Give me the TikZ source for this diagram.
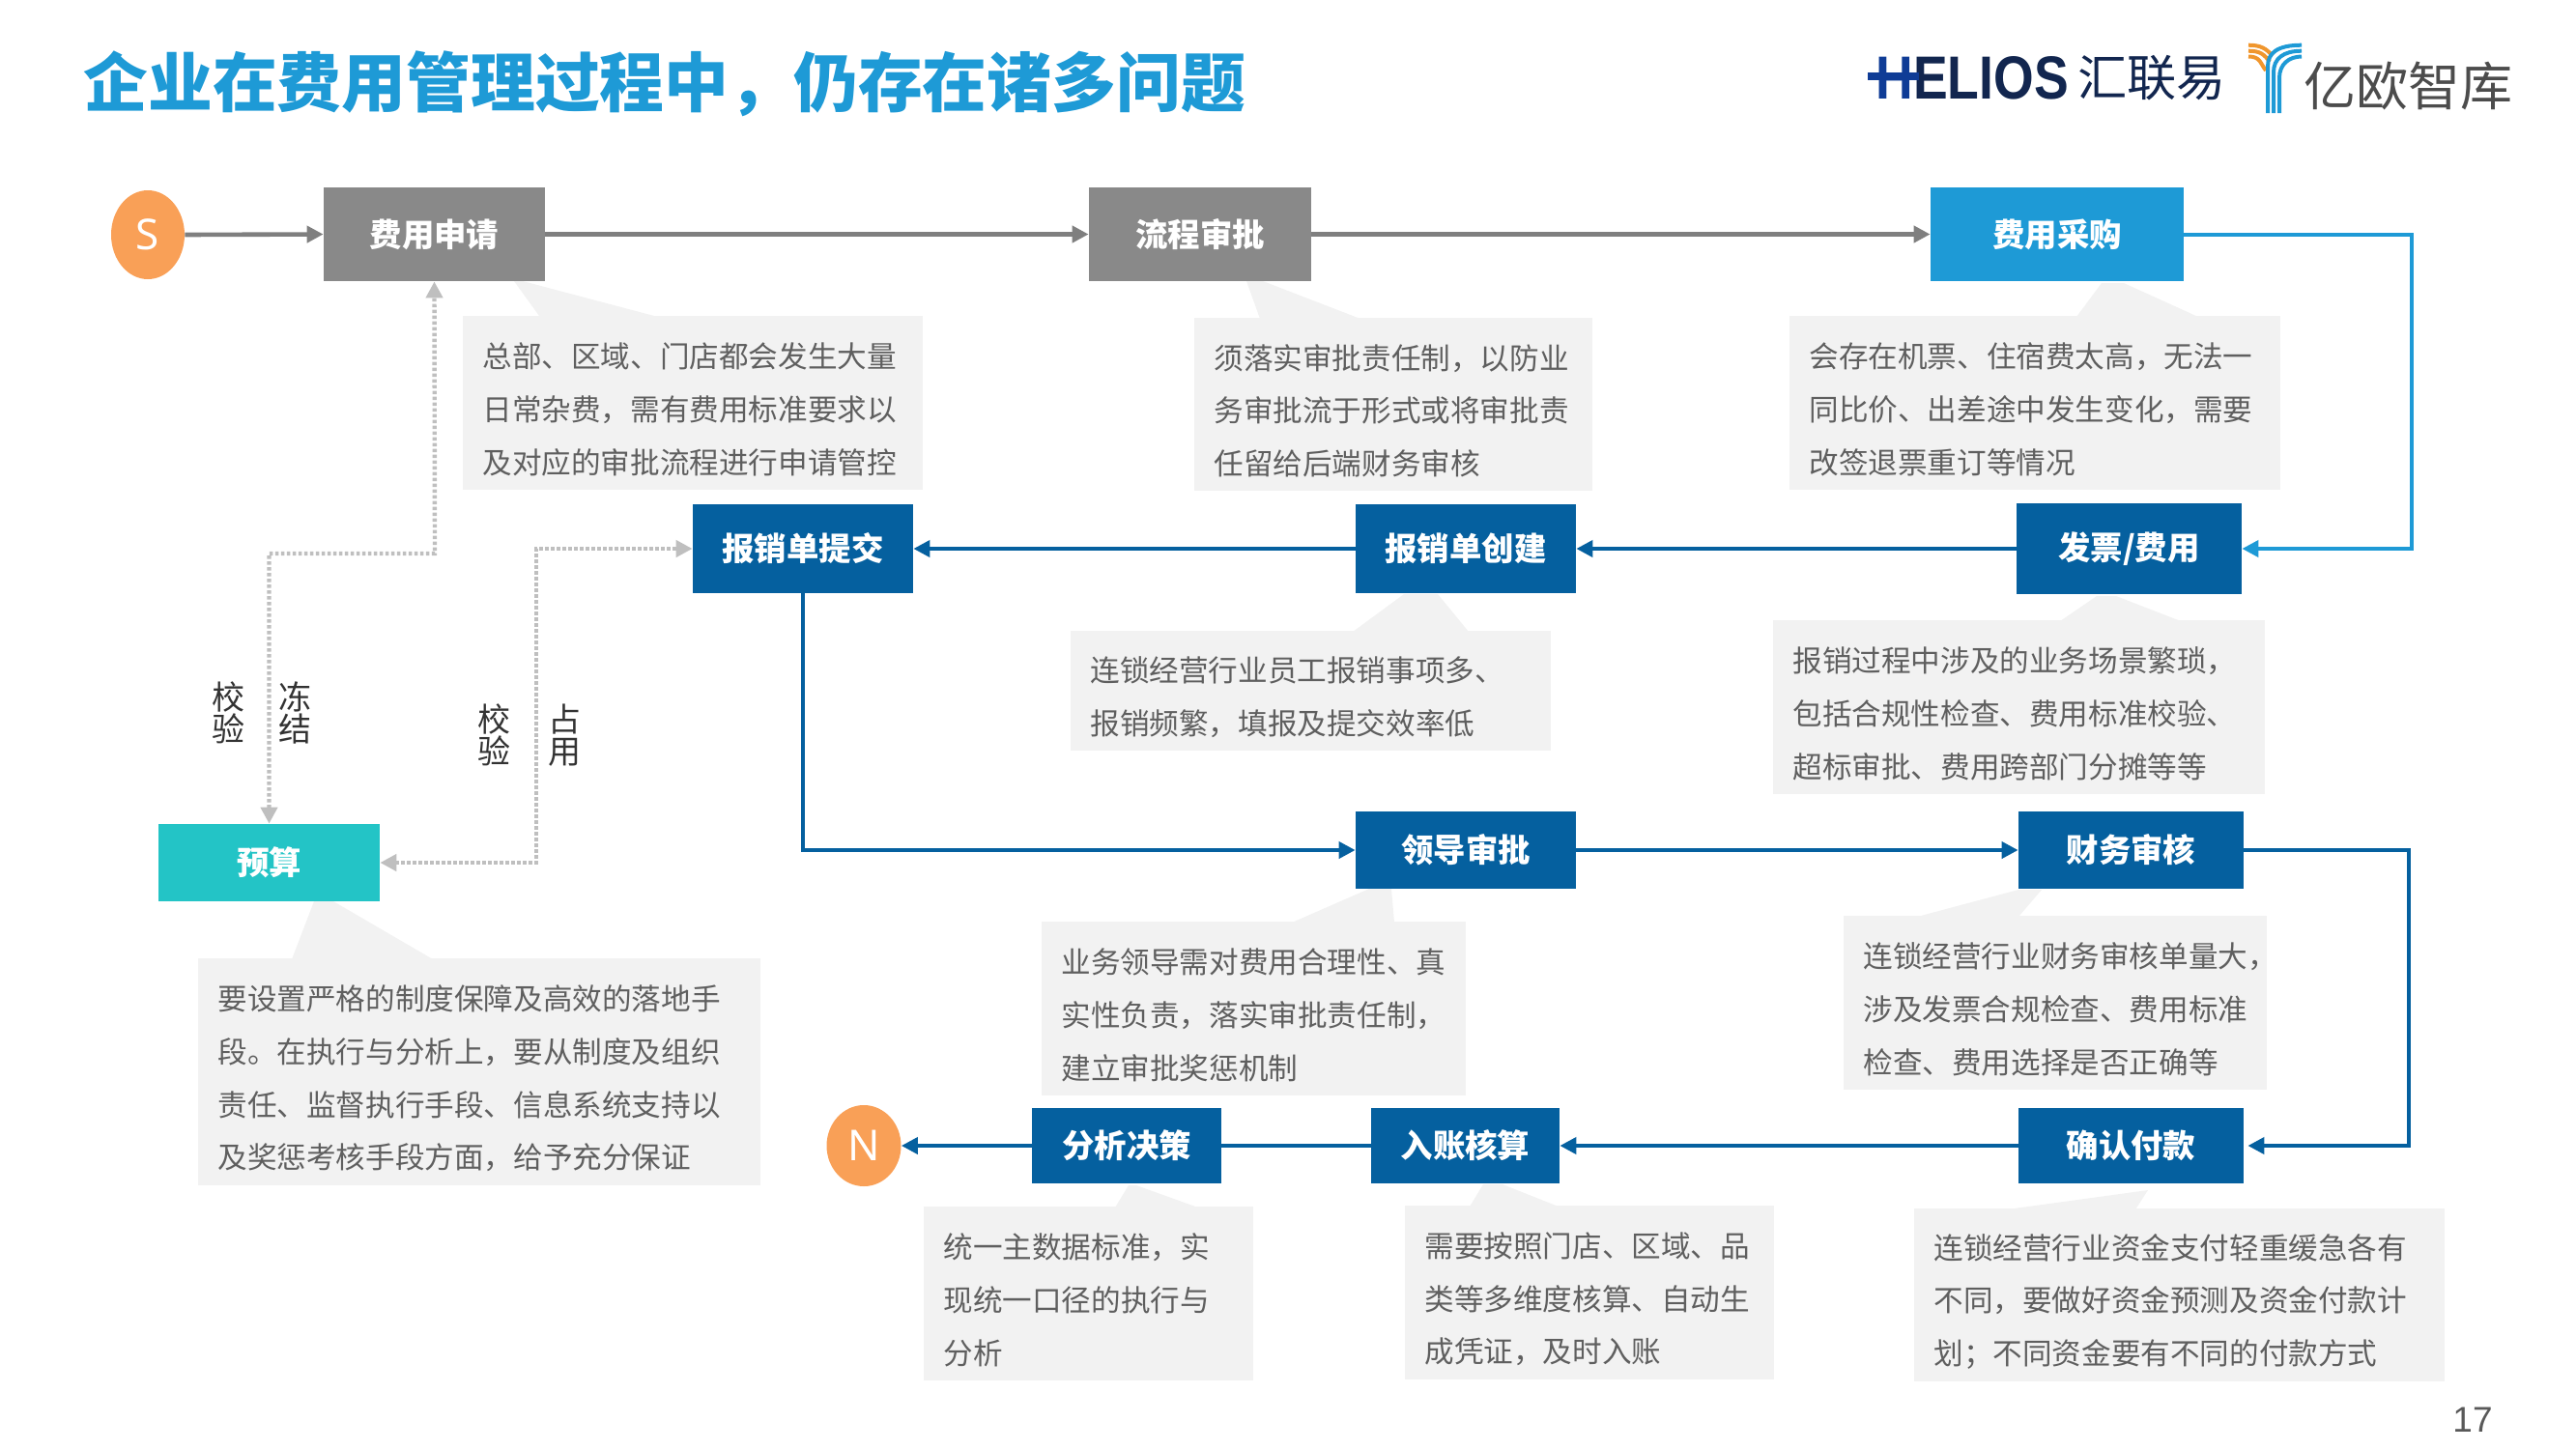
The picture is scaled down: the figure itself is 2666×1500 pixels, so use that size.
\documentclass[tikz,border=0pt]{standalone}
\usepackage{fontspec}
\setmainfont{Noto Sans CJK SC}
\newfontfamily\latinfont{Noto Sans}
\newfontfamily\pagefont{Liberation Sans}
\usetikzlibrary{arrows.meta,shapes.geometric}
\definecolor{titleblue}{HTML}{1E9AD6}
\definecolor{boxgray}{HTML}{898989}
\definecolor{boxblue}{HTML}{05609F}
\definecolor{boxteal}{HTML}{23C4C6}
\definecolor{startorange}{HTML}{F9A057}
\definecolor{noteback}{HTML}{F2F2F2}
\definecolor{notetext}{HTML}{5F5F5F}
\definecolor{linegray}{HTML}{7F7F7F}
\definecolor{dotgray}{HTML}{BFBFBF}
\definecolor{navy}{HTML}{12264F}
\definecolor{helblue}{HTML}{0F3C96}
\definecolor{logoorange}{HTML}{F0962D}
\tikzset{
  x=0.5pt,y=-0.5pt,
  stepbox/.style={inner sep=0pt,text=white,font=\fontsize{16.7pt}{20pt}\selectfont\bfseries},
  terminal/.style={ellipse,inner sep=0pt,fill=startorange,text=white,minimum width=38pt,font=\latinfont\fontsize{22pt}{24pt}\selectfont},
  notebox/.style={inner sep=0pt,fill=noteback},
  notewords/.style={inner sep=0pt,text=notetext,align=left,font=\fontsize{15.3pt}{27.4pt}\selectfont},
  notetail/.style={fill=noteback},
  tipstyle/.style={-{Triangle[length=8.5pt,width=8.5pt]}},
  grayflow/.style={draw=linegray,line width=2.3pt,tipstyle},
  blueflow/.style={draw=boxblue,line width=2pt,tipstyle},
  lightflow/.style={draw=titleblue,line width=2pt,tipstyle},
  plainblue/.style={draw=boxblue,line width=2pt},
  dotlink/.style={draw=dotgray,line width=2.2pt,dash pattern=on 1.8pt off 1.2pt,
    {Triangle[length=8.5pt,width=8.5pt]}-{Triangle[length=8.5pt,width=8.5pt]}},
  vlabel/.style={inner sep=0pt,align=center,text=black!80,font=\fontsize{17pt}{16.6pt}\selectfont},
  logobar/.style={line width=2pt,line cap=butt},
}
% name, x1, y1, x2, y2, colour, text
\newcommand\stepnode[7]{\node[stepbox,fill=#6,minimum width={(#4-#2)*0.5pt},minimum height={(#5-#3)*0.5pt}] (#1) at ({(#2+#4)/2},{(#3+#5)/2}) {#7};}
% name, x1, y1, x2, y2, text
\newcommand\notenode[6]{\node[notebox,minimum width={(#4-#2)*0.5pt},minimum height={(#5-#3)*0.5pt}] (#1) at ({(#2+#4)/2},{(#3+#5)/2}) {};
  \node[notewords,text width={(#4-#2-41)*0.5pt},yshift=-3.4pt] (#1words) at (#1.center) {#6};}
\begin{document}
\begin{tikzpicture}
\useasboundingbox (0,0) rectangle (2666,1500);
% title
\node[anchor=west,inner sep=0pt,text=titleblue,font=\fontsize{33.4pt}{36pt}\selectfont\bfseries] (title) at (86,87) {企业在费用管理过程中，仍存在诸多问题};
% logos
\node[anchor=west,inner sep=0pt,text=navy,font=\pagefont\fontsize{31.5pt}{34pt}\selectfont\bfseries] (helios) at (1941,81) {\scalebox{0.85}[1]{\textcolor{helblue}{H}ELIOS}};
\fill[helblue] (1933,75) rectangle (1986,83);
\node[anchor=west,inner sep=0pt,text=navy,font=\fontsize{25.6pt}{28pt}\selectfont] (hly) at (2150,81) {汇联易};
\node[anchor=west,inner sep=0pt,text=black!70,font=\fontsize{27pt}{30pt}\selectfont] (yiou) at (2384,89) {亿欧智库};
\foreach \xa/\ya/\xb/\yb in {2327/46.7/2351.7/58,2327/52.7/2349/64,2327/58.5/2345/73}
  \draw[logobar,draw=logoorange] (\xa,\ya) .. controls ({\xa+12},\ya) and ({\xb-6},{\yb-8}) .. (\xb,\yb);
\foreach \xa/\ya in {2347/46.7,2353/52.7,2359/58.5}
  \draw[logobar,draw=titleblue] (\xa,117) -- (\xa,{\ya+22}) .. controls (\xa,{\ya+8}) and ({\xa+10},\ya) .. (2382,\ya);
% note tails
\fill[notetail] (558,327) -- (532,291) -- (541,291) -- (677,327) -- cycle;
\fill[notetail] (1304,330) -- (1290,291) -- (1307,291) -- (1408,330) -- cycle;
\fill[notetail] (2149,328) -- (2175,293) -- (2198,293) -- (2275,328) -- cycle;
\fill[notetail] (1400,654) -- (1453,615) -- (1488,615) -- (1520,654) -- cycle;
\fill[notetail] (2132,643) -- (2170,617) -- (2190,617) -- (2257,643) -- cycle;
\fill[notetail] (1337,955) -- (1417,920) -- (1440,920) -- (1443,955) -- cycle;
\fill[notetail] (1984,949) -- (2089,921) -- (2113,921) -- (2089,949) -- cycle;
\fill[notetail] (302,993) -- (325,933) -- (345,933) -- (448,993) -- cycle;
\fill[notetail] (1154,1250) -- (1168,1227) -- (1176,1227) -- (1240,1250) -- cycle;
\fill[notetail] (1521,1249) -- (1535,1226) -- (1555,1226) -- (1613,1249) -- cycle;
\fill[notetail] (2077,1252) -- (2223,1232) -- (2210,1252) -- cycle;
% notes
\notenode{noteapply}{479}{327}{955}{507}{总部、区域、门店都会发生大量\\日常杂费，需有费用标准要求以\\及对应的审批流程进行申请管控}
\notenode{noteflow}{1236}{329}{1648}{508}{须落实审批责任制，以防业\\务审批流于形式或将审批责\\任留给后端财务审核}
\notenode{notebuy}{1852}{327}{2360}{507}{会存在机票、住宿费太高，无法一\\同比价、出差途中发生变化，需要\\改签退票重订等情况}
\notenode{notecreate}{1108}{653}{1605}{777}{连锁经营行业员工报销事项多、\\报销频繁，填报及提交效率低}
\notenode{noteinvoice}{1835}{642}{2344}{822}{报销过程中涉及的业务场景繁琐，\\包括合规性检查、费用标准校验、\\超标审批、费用跨部门分摊等等}
\notenode{noteleader}{1078}{954}{1517}{1134}{业务领导需对费用合理性、真\\实性负责，落实审批责任制，\\建立审批奖惩机制}
\notenode{notefin}{1908}{948}{2346}{1128}{连锁经营行业财务审核单量大，\\涉及发票合规检查、费用标准\\检查、费用选择是否正确等}
\notenode{notebudget}{205}{992}{787}{1227}{要设置严格的制度保障及高效的落地手\\段。在执行与分析上，要从制度及组织\\责任、监督执行手段、信息系统支持以\\及奖惩考核手段方面，给予充分保证}
\notenode{noteanalysis}{956}{1249}{1297}{1429}{统一主数据标准，实\\现统一口径的执行与\\分析}
\notenode{noteaccount}{1454}{1248}{1836}{1428}{需要按照门店、区域、品\\类等多维度核算、自动生\\成凭证，及时入账}
\notenode{notepay}{1981}{1251}{2530}{1430}{连锁经营行业资金支付轻重缓急各有\\不同，要做好资金预测及资金付款计\\划；不同资金要有不同的付款方式}
% steps
\node[terminal,minimum height=46pt] (start) at (153,243) {S};
\stepnode{apply}{335}{194}{564}{291}{boxgray}{费用申请}
\stepnode{approve}{1127}{194}{1357}{291}{boxgray}{流程审批}
\stepnode{purchase}{1998}{194}{2260}{291}{titleblue}{费用采购}
\stepnode{invoice}{2087}{521}{2320}{615}{boxblue}{发票/费用}
\stepnode{create}{1403}{522}{1631}{614}{boxblue}{报销单创建}
\stepnode{submit}{717}{522}{945}{614}{boxblue}{报销单提交}
\stepnode{budget}{164}{853}{393}{933}{boxteal}{预算}
\stepnode{leader}{1403}{840}{1631}{920}{boxblue}{领导审批}
\stepnode{finance}{2089}{840}{2322}{920}{boxblue}{财务审核}
\stepnode{confirm}{2089}{1147}{2322}{1225}{boxblue}{确认付款}
\stepnode{account}{1419}{1147}{1614}{1225}{boxblue}{入账核算}
\stepnode{analysis}{1068}{1147}{1264}{1225}{boxblue}{分析决策}
\node[terminal,minimum width=38.5pt,minimum height=42pt] (nend) at (894,1186) {N};
% helper coordinates
\coordinate (railtop) at (2496,400);
\coordinate (railbot) at (2493,1000);
\coordinate (dotleft) at (450,573);
\coordinate (dotright) at (555,700);
% connectors
\draw[grayflow] (start.east) -- (apply.west);
\draw[grayflow] (apply.east) -- (approve.west);
\draw[grayflow] (approve.east) -- (purchase.west);
\draw[lightflow] (purchase.east) -| (railtop) |- (invoice.east);
\draw[blueflow] (invoice.west) -- (create.east);
\draw[blueflow] (create.west) -- (submit.east);
\draw[blueflow] (submit.south) |- (leader.west);
\draw[blueflow] (leader.east) -- (finance.west);
\draw[blueflow,shorten >=2pt] (finance.east) -| (railbot) |- (confirm.east);
\draw[blueflow] (confirm.west) -- (account.east);
\draw[plainblue] (account.west) -- (analysis.east);
\draw[blueflow] (analysis.west) -- (nend.east);
\draw[dotlink] (budget.north) |- (dotleft) -- (apply.south);
\draw[dotlink] (budget.east) -| (dotright) |- (submit.west);
% labels
\node[vlabel] (lab1) at (236,738) {校\\验};
\node[vlabel] (lab2) at (305,738) {冻\\结};
\node[vlabel] (lab3) at (511,761) {校\\验};
\node[vlabel] (lab4) at (584,761) {占\\用};
\node[inner sep=0pt,text=black!65,font=\pagefont\fontsize{18.5pt}{20pt}\selectfont] (pageno) at (2559,1470) {17};
\end{tikzpicture}
\end{document}
